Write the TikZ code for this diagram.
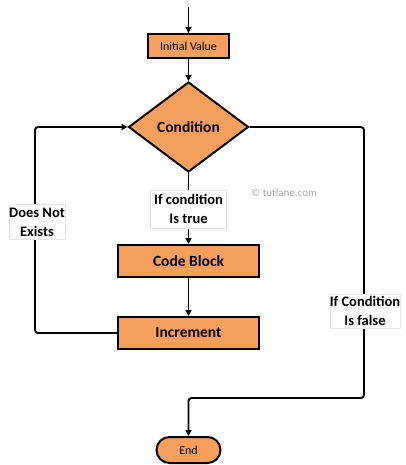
\documentclass[tikz,border=0pt]{standalone}
\usepackage{fontspec}
\setmainfont{Carlito}
\usetikzlibrary{shapes.geometric,arrows.meta}
\definecolor{boxfill}{HTML}{F4A05C}
\definecolor{wm}{HTML}{A8A8A8}
\begin{document}
\begin{tikzpicture}[x=1pt,y=-1pt,
  shapebox/.style={draw=black, fill=boxfill, line width=2pt, inner sep=0pt, font=\fontsize{15.5}{17}\selectfont\bfseries},
  smallbox/.style={shapebox, font=\fontsize{12}{14}\selectfont},
  decision/.style={shapebox, diamond, minimum width=120pt, minimum height=90pt},
  lbl/.style={draw=gray!20, fill=white, line width=0.6pt, inner sep=0pt, align=center, font=\fontsize{14.5}{19}\selectfont\bfseries},
  conn/.style={line width=1.9pt, rounded corners=3pt},
  arr/.style={conn, -{Triangle[width=6pt,length=6pt]}}
]
\useasboundingbox (0,0) rectangle (406,465);
\coordinate (top) at (188.5,7);
\node[smallbox, minimum width=81pt, minimum height=24pt] (init) at (188.5,46) {Initial Value};
\node[decision] (cond) at (188.5,127) {Condition};
\node[shapebox, minimum width=141pt, minimum height=32pt] (code) at (188.5,261) {Code Block};
\node[shapebox, minimum width=141pt, minimum height=32pt] (incr) at (188.5,333) {Increment};
\node[smallbox, minimum width=64pt, minimum height=26pt, rounded corners=13pt] (end) at (188.5,450) {End};
\coordinate (lb) at (35,333);
\coordinate (lt) at (35,127);
\coordinate (rt) at (364,127);
\coordinate (rb) at (364,398);
\coordinate (eb) at (188.5,398);

\draw[arr] (top) -- (init.north);
\draw[arr] (init.south) -- (cond.north);
\draw[arr] (cond.south) -- (code.north);
\draw[arr] (code.south) -- (incr.north);
\draw[arr] (incr.west) -- (lb) -- (lt) -- (cond.west);
\draw[arr] (cond.east) -- (rt) -- (rb) -- (eb) -- (end.north);

\node[lbl, minimum width=76pt, minimum height=38pt] (ltrue) at (188.5,209) {If condition\\Is true};
\node[lbl, minimum width=54pt, minimum height=35pt] (lnot) at (37,222) {Does Not\\Exists};
\node[lbl, minimum width=70pt, minimum height=34pt] (lfalse) at (365,311) {If Condition\\Is false};
\node[text=wm, font=\fontsize{11}{13}\selectfont, inner sep=0pt] (mark) at (284,193) {© tutlane.com};
\end{tikzpicture}
\end{document}
